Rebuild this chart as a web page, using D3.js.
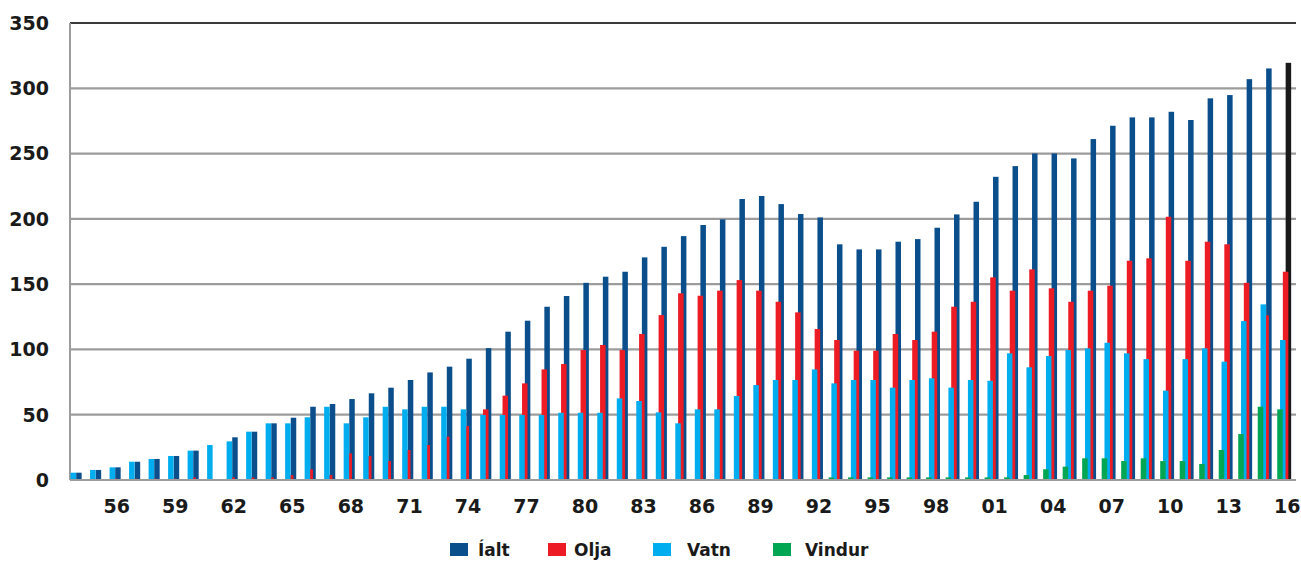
<!DOCTYPE html>
<html><head><meta charset="utf-8">
<script src="https://cdn.jsdelivr.net/npm/d3@7"></script>
<style>html,body{margin:0;padding:0;background:#fff;}svg{display:block;}</style>
</head><body>
<svg id="c" width="1301" height="569"></svg>
<script>
const years = d3.range(1954, 2017);
const ialt = [5.6,7.7,9.7,14,16.1,18.4,22.5,null,32.7,37,43.4,47.7,56.1,58.2,62,66.4,70.7,76.6,82.4,86.8,92.9,101,113.6,122,132.7,140.9,151,155.7,159.5,170.5,178.6,186.8,195.3,199.6,215.2,217.5,211.3,203.7,201.1,180.5,176.6,176.6,182.5,184.5,193.2,203.4,213.1,232.2,240.4,250.1,250.1,246.3,261.1,271.3,277.7,277.7,282,275.7,292.3,294.8,307,315.2,319.5];
const olja = [0.5,0.5,1,1,1,1,2,0,2,2,2,3.8,8.2,3.8,20.4,18.4,14.5,23,26.8,33.2,41.3,54.1,64.6,74,84.7,88.8,99.5,103.4,99.5,111.8,126.3,143,141.1,145,153.1,145,136.5,128.4,115.6,107.2,99,99,111.8,107.2,113.6,132.7,136.5,155.2,145,161.3,146.8,136.5,145,148.8,167.9,169.8,201.6,167.9,182.5,180.5,151,126.1,159.5];
const vatn = [5.6,7.7,9.7,14,16.1,18.4,22.5,26.8,29.6,37,43.4,43.4,48,56.1,43.4,48,56.1,54.1,56.1,56.1,54.1,49.8,49.8,49.8,49.8,51.5,51.5,51.5,62.5,60.5,51.8,43.4,54.1,54.1,64.3,72.7,76.6,76.6,84.7,74,76.6,76.6,70.7,76.6,77.9,70.7,76.6,76,97,86.3,94.9,99.5,100.8,105.1,97,92.6,68.4,92.6,100.8,90.6,121.7,134.5,107.2];
const vindur = [0,0,0,0,0,0,0,0,0,0,0,0,0,0,0,0,0,0,0,0,0,0,0,0,0,0,0,0,0,0,0,0,0,0,0,0,0,0,0,2,2,2,2,2,2,2,2,2,2,3.8,8.2,10.2,16.6,16.6,14.5,16.6,14.5,14.5,12.3,23,35.2,56.1,54.1];
const yTicks = [0,50,100,150,200,250,300,350];
const tickYears = d3.range(1956, 2017, 3);
const seriesNames = ["Íalt","Olja","Vatn","Vindur"];
const seriesColors = ["#0b4e8c","#ed1c24","#00adef","#00a651"];

const svg = d3.select("#c");
const x = d3.scaleBand().domain(years).range([68, 1297]).paddingInner(0).paddingOuter(0);
const y = d3.scaleLinear().domain([0, 350]).range([480, 23]);
const FONT = "DejaVu Sans, Verdana, sans-serif";

// gridlines
svg.append("g").selectAll("line").data(yTicks.filter(t => t > 0)).join("line")
  .attr("x1", 70).attr("x2", 1296)
  .attr("y1", d => y(d)).attr("y2", d => y(d))
  .attr("stroke", d => d === 350 ? "#3a3a3a" : "#9c9c9c")
  .attr("stroke-width", 2.2);
// left axis
svg.append("line").attr("x1", 70).attr("x2", 70).attr("y1", y(350)).attr("y2", y(0))
  .attr("stroke", "#9c9c9c").attr("stroke-width", 2);

// bars: left to right green, light blue, red, dark blue; drawn right-to-left so left bars overlap
const bw = 5.5, stepB = 2.8, g0 = -10;
const layers = [
  {vals: ialt, color: seriesColors[0], k: 3},
  {vals: olja, color: seriesColors[1], k: 2},
  {vals: vatn, color: seriesColors[2], k: 1},
  {vals: vindur, color: seriesColors[3], k: 0}
];
const cx = yr => x(yr) + x.bandwidth() / 2;
layers.forEach(L => {
  svg.append("g").selectAll("rect")
    .data(years.map((yr, i) => ({yr, v: L.vals[i]})).filter(d => d.v != null && d.v > 0))
    .join("rect")
    .attr("x", d => cx(d.yr) + g0 + L.k * stepB)
    .attr("width", bw)
    .attr("y", d => y(d.v))
    .attr("height", d => y(0) - y(d.v))
    .attr("fill", d => (L.vals === ialt && d.yr === 2016) ? "#1a1a1a" : L.color);
});

// bottom axis line
svg.append("line").attr("x1", 70).attr("x2", 1296).attr("y1", y(0)).attr("y2", y(0))
  .attr("stroke", "#9c9c9c").attr("stroke-width", 2.2);

// y labels
svg.append("g").selectAll("text").data(yTicks).join("text")
  .attr("x", 49).attr("y", d => y(d)).attr("dy", "0.36em")
  .attr("text-anchor", "end")
  .attr("font-family", FONT)
  .attr("font-weight", "bold").attr("font-size", 19)
  .attr("fill", "#1a1a1a")
  .text(d => d);

// x labels
svg.append("g").selectAll("text").data(tickYears).join("text")
  .attr("x", d => cx(d)).attr("y", 513)
  .attr("text-anchor", "middle")
  .attr("font-family", FONT)
  .attr("font-weight", "bold").attr("font-size", 19)
  .attr("fill", "#1a1a1a")
  .text(d => String(d % 100).padStart(2, "0"));

// legend
const legX = [450, 548, 653, 773];
const legT = [478, 574, 687, 805];
const leg = svg.append("g").selectAll("g").data(seriesNames).join("g")
  .attr("transform", (d, i) => `translate(${legX[i]},543)`);
leg.append("rect").attr("width", 18).attr("height", 13).attr("fill", (d, i) => seriesColors[i]);
leg.append("text").attr("x", (d, i) => legT[i] - legX[i]).attr("y", 13)
  .attr("font-family", FONT)
  .attr("font-weight", "bold").attr("font-size", 17)
  .attr("fill", "#1a1a1a")
  .text(d => d);
</script>
</body></html>
